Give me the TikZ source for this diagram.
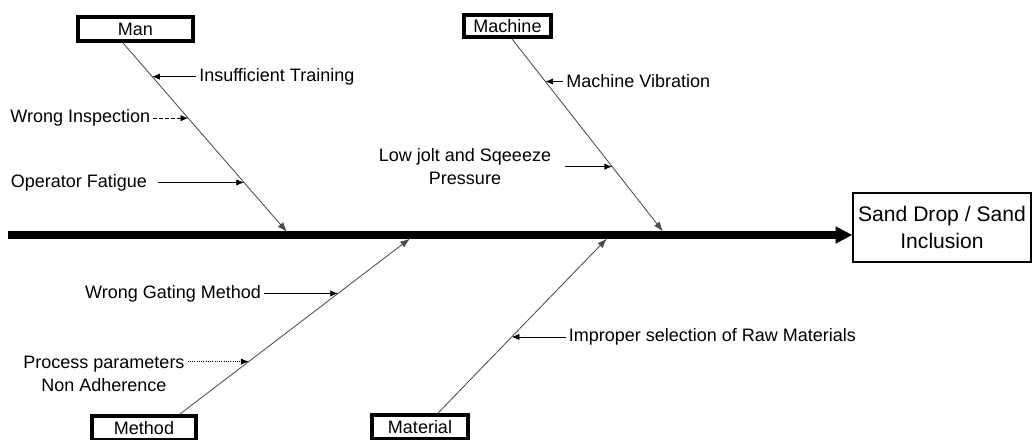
\documentclass[tikz,border=0pt]{standalone}
\usepackage{fontspec}
\setmainfont{Liberation Sans}
\usetikzlibrary{arrows.meta,calc}

\begin{document}
\begin{tikzpicture}[
    x=0.025cm, y=-0.025cm,
    catbox/.style={draw, line width=2.8pt, inner sep=0pt, font=\fontsize{12.8}{15}\selectfont},
    causelbl/.style={font=\fontsize{12.8}{16.4}\selectfont, inner sep=2pt, align=center},
    effectbox/.style={draw, line width=0.8pt, align=center, minimum width=4.45cm, minimum height=1.725cm, font=\fontsize{15}{19.2}\selectfont},
    bone/.style={draw=black!70, line width=0.6pt, -{Latex[length=7pt, width=5pt]}},
    cause/.style={line width=0.6pt, -{Latex[length=5.5pt, width=4.5pt]}},
    spine/.style={line width=5pt, -{Triangle[length=12pt, width=11.5pt]}}
  ]
  \useasboundingbox (0,0) rectangle (1033,440);
  % effect and spine
  \node[effectbox] (effect) at (942,227.5) {Sand Drop / Sand\\Inclusion};
  \coordinate (tail) at (8,235);
  \draw[spine] (tail) -- (tail -| effect.west);
  % category boxes
  \foreach \name/\lbl/\x/\y/\w/\h in {%
    man/Man/135.5/29/2.875/0.6,
    machine/Machine/507.5/26/2.175/0.55,
    method/Method/144/428/2.6/0.6,
    material/Material/420/427/2.4/0.6%
  }{
    \node[catbox, minimum width=\w cm, minimum height=\h cm] (\name) at (\x,\y) {\lbl};
  }
  % bones
  \coordinate (manA) at ($(man.south)+(-12.5,0)$);
  \coordinate (machA) at ($(machine.south)+(4.5,0)$);
  \coordinate (methA) at ($(method.north)+(36,0)$);
  \coordinate (matA) at ($(material.north)+(18,0)$);
  \coordinate (mantip) at (287,232);
  \coordinate (machtip) at (663,231.5);
  \coordinate (methtip) at (410,238.5);
  \coordinate (mattip) at (607,238.5);
  \draw[bone] (manA) -- (mantip);
  \draw[bone] (machA) -- (machtip);
  \draw[bone] (methA) -- (methtip);
  \draw[bone] (matA) -- (mattip);
  % causes: man
  \coordinate (it) at ($(manA)!0.178!(mantip)$);
  \coordinate (wi) at ($(manA)!0.398!(mantip)$);
  \coordinate (of) at ($(manA)!0.738!(mantip)$);
  \node[causelbl, anchor=west] (itl) at ($(it)+(44,0)$) {Insufficient Training};
  \node[causelbl, anchor=east] (wil) at ($(wi)+(-35,0)$) {Wrong Inspection};
  \node[causelbl, anchor=east] (ofl) at ($(of)+(-94,0)$) {Operator Fatigue};
  \draw[cause] (itl.west) -- (it);
  \draw[cause, dash pattern=on 3pt off 1.2pt] (wil.east) -- (wi);
  \draw[cause, shorten <=6pt] (ofl.east) -- (of);
  % causes: machine
  \coordinate (mv) at ($(machA)!0.221!(machtip)$);
  \coordinate (lj) at ($(machA)!0.663!(machtip)$);
  \node[causelbl, anchor=west] (mvl) at ($(mv)+(18,0)$) {Machine Vibration};
  \node[causelbl] (ljl) at (465,166.5) {Low jolt and Sqeeeze\\Pressure};
  \draw[cause] (mvl.west) -- (mv);
  \draw[cause, shorten <=8pt] (ljl.east |- lj) -- (lj);
  % causes: method
  \coordinate (wg) at ($(methA)!0.687!(methtip)$);
  \coordinate (pp) at ($(methA)!0.2986!(methtip)$);
  \node[causelbl, anchor=east] (wgl) at ($(wg)+(-74,0)$) {Wrong Gating Method};
  \node[causelbl] (ppl) at (104,373.5) {Process parameters\\Non Adherence};
  \draw[cause] (wgl.east) -- (wg);
  \draw[cause, densely dotted] (ppl.east |- pp) -- (pp);
  % causes: material
  \coordinate (is) at ($(matA)!0.436!(mattip)$);
  \node[causelbl, anchor=west] (isl) at ($(is)+(54,0)$) {Improper selection of Raw Materials};
  \draw[cause] (isl.west) -- (is);
\end{tikzpicture}
\end{document}
